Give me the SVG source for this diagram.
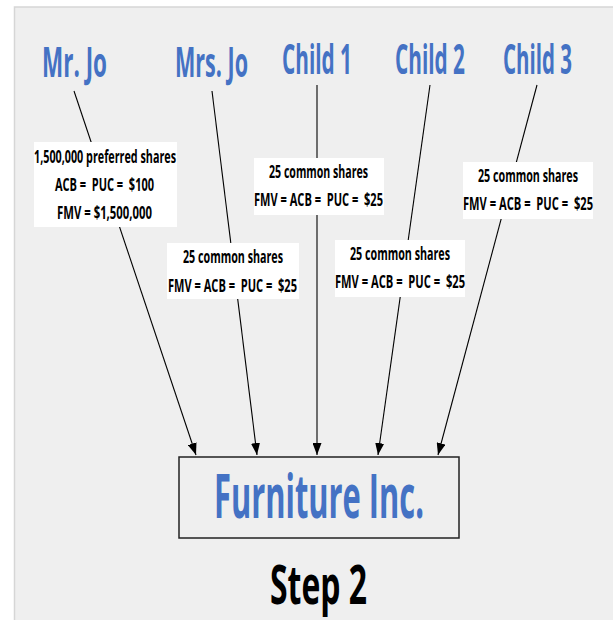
<svg xmlns="http://www.w3.org/2000/svg" width="613" height="620" viewBox="0 0 613 620">
<defs>
<marker id="arr" markerUnits="userSpaceOnUse" markerWidth="12" markerHeight="9" refX="12" refY="4.5" orient="auto">
<path d="M0,0 L12,4.5 L0,9 Z" fill="#000"/>
</marker>
<style>
.name{font-family:"Open Sans","Liberation Sans",sans-serif;font-weight:bold;font-size:42px;fill:#4472c4}
.lbl{font-family:"Open Sans","Liberation Sans",sans-serif;font-weight:bold;font-size:17px;fill:#000;white-space:pre}
.conn{stroke:#000;stroke-width:1.1;fill:none;marker-end:url(#arr)}
.lblbox{fill:#fff}
</style>
</defs>
<rect x="0" y="0" width="613" height="620" fill="#fff"/>
<rect x="14.5" y="7" width="610" height="620" fill="#efefef" stroke="#d6d6d6" stroke-width="1.5"/>

<g id="mr-jo"><text class="name" transform="translate(42,77) scale(0.5,1)" x="0" y="0" textLength="130" lengthAdjust="spacingAndGlyphs">Mr. Jo</text></g>
<g id="mrs-jo"><text class="name" transform="translate(175,77) scale(0.5,1)" x="0" y="0" textLength="146" lengthAdjust="spacingAndGlyphs">Mrs. Jo</text></g>
<g id="child-1"><text class="name" transform="translate(282,74) scale(0.5,1)" x="0" y="0" textLength="140" lengthAdjust="spacingAndGlyphs">Child 1</text></g>
<g id="child-2"><text class="name" transform="translate(395,74) scale(0.5,1)" x="0" y="0" textLength="140" lengthAdjust="spacingAndGlyphs">Child 2</text></g>
<g id="child-3"><text class="name" transform="translate(503,74) scale(0.5,1)" x="0" y="0" textLength="138" lengthAdjust="spacingAndGlyphs">Child 3</text></g>

<g id="connectors">
<line class="conn" x1="74" y1="91" x2="196" y2="455"/>
<line class="conn" x1="212" y1="91" x2="257" y2="455"/>
<line class="conn" x1="317" y1="85" x2="317" y2="455"/>
<line class="conn" x1="430" y1="85" x2="378" y2="455"/>
<line class="conn" x1="537" y1="85" x2="438" y2="455"/>
</g>

<g id="edge-labels">
<g id="label-mr-jo">
<rect class="lblbox" x="34" y="142" width="143" height="85"/>
<text class="lbl" transform="translate(34,163) scale(0.6,1)" x="0" y="0" textLength="236.7" lengthAdjust="spacingAndGlyphs">1,500,000 preferred shares</text>
<text class="lbl" transform="translate(55,191) scale(0.6,1)" x="0" y="0" textLength="165" lengthAdjust="spacingAndGlyphs">ACB =  PUC =  $100</text>
<text class="lbl" transform="translate(57,219) scale(0.6,1)" x="0" y="0" textLength="158.3" lengthAdjust="spacingAndGlyphs">FMV = $1,500,000</text>
</g>
<g id="label-mrs-jo">
<rect class="lblbox" x="167" y="243" width="132" height="56"/>
<text class="lbl" transform="translate(183,263) scale(0.6,1)" x="0" y="0" textLength="166.7" lengthAdjust="spacingAndGlyphs">25 common shares</text>
<text class="lbl" transform="translate(168,292) scale(0.6,1)" x="0" y="0" textLength="215" lengthAdjust="spacingAndGlyphs">FMV = ACB =  PUC =  $25</text>
</g>
<g id="label-child-1">
<rect class="lblbox" x="254" y="158" width="130" height="57"/>
<text class="lbl" transform="translate(269,178) scale(0.6,1)" x="0" y="0" textLength="165" lengthAdjust="spacingAndGlyphs">25 common shares</text>
<text class="lbl" transform="translate(254,206) scale(0.6,1)" x="0" y="0" textLength="215" lengthAdjust="spacingAndGlyphs">FMV = ACB =  PUC =  $25</text>
</g>
<g id="label-child-2">
<rect class="lblbox" x="335" y="240" width="130" height="57"/>
<text class="lbl" transform="translate(350,260) scale(0.6,1)" x="0" y="0" textLength="166.7" lengthAdjust="spacingAndGlyphs">25 common shares</text>
<text class="lbl" transform="translate(335,288) scale(0.6,1)" x="0" y="0" textLength="216.7" lengthAdjust="spacingAndGlyphs">FMV = ACB =  PUC =  $25</text>
</g>
<g id="label-child-3">
<rect class="lblbox" x="463" y="162" width="130" height="57"/>
<text class="lbl" transform="translate(478,182) scale(0.6,1)" x="0" y="0" textLength="166.7" lengthAdjust="spacingAndGlyphs">25 common shares</text>
<text class="lbl" transform="translate(463,210) scale(0.6,1)" x="0" y="0" textLength="216.7" lengthAdjust="spacingAndGlyphs">FMV = ACB =  PUC =  $25</text>
</g>
</g>

<g id="furniture-inc">
<rect x="179" y="457" width="280" height="81" fill="none" stroke="#222" stroke-width="1.5"/>
<text transform="translate(214,518) scale(0.53,1)" x="0" y="0" textLength="396.2" lengthAdjust="spacingAndGlyphs" style="font-family:'Open Sans','Liberation Sans',sans-serif;font-weight:bold;font-size:60px;fill:#4472c4">Furniture Inc.</text>
</g>

<g id="step-label">
<text transform="translate(270,604) scale(0.58,1)" x="0" y="0" textLength="167.2" lengthAdjust="spacingAndGlyphs" style="font-family:'Open Sans','Liberation Sans',sans-serif;font-weight:bold;font-size:54px;fill:#000">Step 2</text>
</g>
</svg>
